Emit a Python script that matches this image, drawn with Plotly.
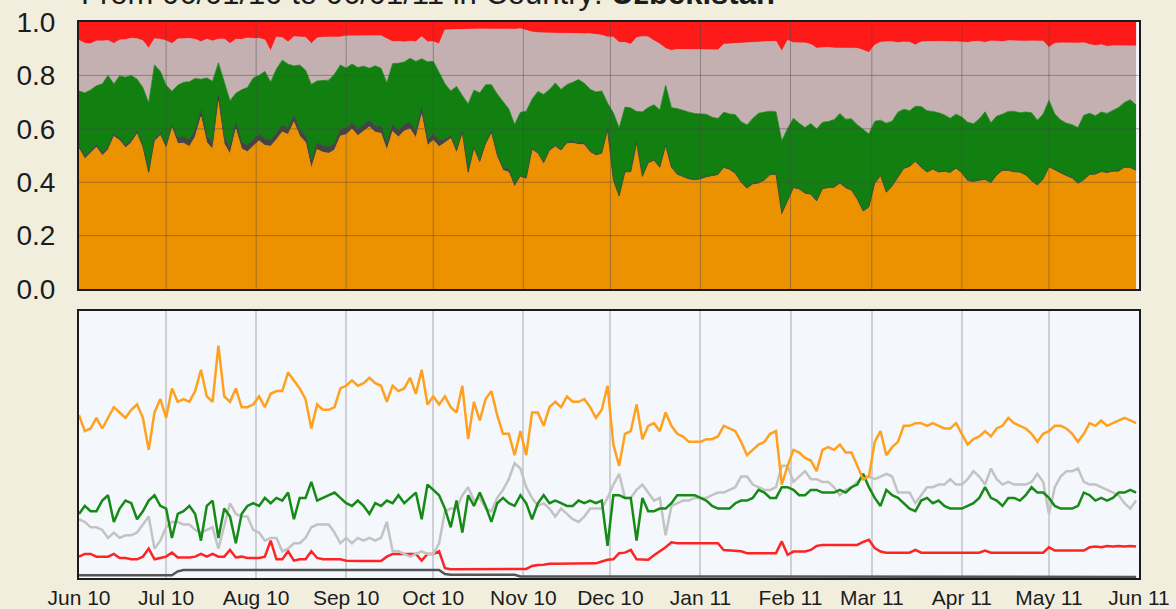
import pandas as pd
import plotly.graph_objects as go

# ---------------- data (every 2 days, 2010-06-01 .. 2011-05-31) ----------------
dates = pd.date_range("2010-06-01", periods=183, freq="2D")

orange = [61, 55, 56, 60, 56, 60, 64, 62, 60, 63,
          65, 60, 48, 62, 67, 60, 71, 66, 67, 66,
          70, 78, 68, 66, 87, 68, 66, 71, 64, 64,
          65, 68, 64, 69, 70, 70, 77, 74, 71, 67,
          56, 65, 63, 63, 64, 71, 72, 74, 72, 73,
          75, 73, 72, 66, 72, 70, 71, 75, 69, 78,
          65, 68, 65, 68, 64, 62, 72, 52, 66, 59,
          67, 70, 61, 54, 54, 46, 55, 46, 62, 62,
          57, 64, 66, 64, 68, 66, 66, 67, 64, 60,
          63, 72, 50, 42, 54, 55, 65, 52, 57, 58,
          55, 62, 57, 54, 53, 51, 51, 51, 52, 52,
          53, 57, 56, 55, 51, 46, 48, 50, 51, 54,
          55, 35, 42, 48, 47, 45, 44, 40, 48, 49,
          48, 50, 47, 47, 42, 37, 38, 51, 55, 46,
          49, 51, 57, 57, 58, 58, 57, 58, 57, 56,
          56, 58, 54, 50, 52, 53, 55, 53, 56, 57,
          60, 58, 57, 56, 54, 51, 54, 55, 57, 57,
          56, 54, 51, 54, 58, 57, 59, 57, 58, 59,
          60, 59, 58]

green = [24, 27, 25, 25, 29, 31, 21, 26, 29, 28,
         22, 25, 29, 31, 27, 26, 15, 24, 25, 27,
         24, 14, 27, 29, 15, 26, 23, 13, 24, 27,
         28, 27, 30, 28, 30, 29, 32, 22, 30, 30,
         36, 29, 30, 31, 32, 30, 28, 27, 29, 27,
         24, 28, 27, 29, 28, 31, 28, 30, 32, 22,
         35, 33, 31, 26, 19, 29, 17, 31, 27, 32,
         27, 21, 28, 30, 28, 27, 31, 28, 22, 28,
         31, 28, 29, 28, 27, 27, 29, 28, 29, 28,
         29, 12, 31, 31, 30, 30, 14, 30, 25, 25,
         26, 26, 28, 31, 31, 31, 31, 30, 29, 27,
         26, 26, 26, 28, 29, 29, 30, 33, 32, 30,
         30, 34, 34, 33, 31, 31, 33, 33, 32, 32,
         32, 33, 32, 34, 35, 39, 34, 30, 27, 33,
         31, 30, 28, 26, 25, 29, 30, 28, 29, 27,
         26, 26, 26, 27, 28, 30, 34, 30, 29, 27,
         30, 30, 29, 31, 34, 32, 32, 30, 27, 26,
         26, 26, 27, 32, 31, 29, 30, 29, 30, 32,
         32, 33, 32]

grey = [22, 21, 19, 19, 18, 15, 17, 15, 16, 16,
        17, 20, 23, 11, 14, 19, 21, 21, 20, 20,
        18, 17, 18, 19, 11, 20, 28, 24, 23, 23,
        18, 17, 14, 15, 15, 10, 11, 13, 13, 15,
        19, 20, 20, 20, 17, 13, 15, 13, 15, 14,
        15, 14, 15, 21, 10, 10, 9, 8, 9, 10,
        9, 9, 13, 25, 26, 26, 31, 34, 29, 30,
        26, 25, 30, 33, 37, 43, 41, 34, 30, 27,
        28, 26, 23, 26, 24, 22, 21, 23, 26, 26,
        26, 30, 35, 39, 30, 30, 33, 35, 32, 29,
        30, 16, 27, 28, 29, 29, 30, 30, 30, 31,
        32, 32, 33, 34, 38, 38, 35, 34, 33, 33,
        34, 42, 42, 36, 38, 40, 37, 37, 36, 36,
        34, 31, 33, 34, 36, 38, 38, 37, 38, 39,
        38, 32, 32, 32, 28, 31, 34, 34, 35, 35,
        37, 35, 35, 37, 40, 38, 35, 41, 37, 35,
        36, 35, 35, 35, 36, 39, 36, 24, 34, 38,
        40, 40, 41, 36, 35, 35, 34, 33, 32, 31,
        28, 26, 29]

red = [8, 9, 9, 8, 8, 8, 9, 7.5, 7.5, 7,
       7, 8, 11, 7, 7.5, 8, 9.5, 7.7, 7.7, 7.7,
       8, 9, 8, 9, 8, 8, 10.5, 7.7, 8, 7.5,
       7.5, 7.5, 8, 14, 7, 7, 10, 6.5, 7, 7,
       10, 7.5, 7, 7, 7, 7, 6.5, 6.4, 6.4, 6.4,
       6.4, 6.4, 6.4, 8, 9, 9, 9, 9, 9, 6.5,
       9, 9, 10, 3.7, 3.3, 3.3, 3.3, 3.3, 3.3, 3.3,
       3.3, 3.3, 3.3, 3.3, 3.3, 3.3, 3.3, 3.4, 4.5, 4.9,
       5, 5.3, 5.3, 5.3, 5.3, 5.3, 5.3, 5.5, 5.5, 5.5,
       6.2, 6.8, 7, 9.3, 9.5, 10.5, 7, 6.8, 6.8, 8.5,
       10, 11.5, 13.4, 13, 13, 13, 13, 13, 13, 13,
       13, 10.5, 10.3, 10.3, 10, 9.3, 9.3, 9.3, 9.3, 9.3,
       9.3, 13.7, 8.7, 9.9, 9.9, 9.9, 10.5, 12, 12.4, 12.4,
       12.4, 12.4, 12.4, 12.4, 12.4, 13.5, 14.3, 11.2, 9.9, 9.5,
       9.5, 9.5, 9.5, 9.5, 10.5, 9.5, 9.5, 9.5, 9.5, 9.5,
       9.5, 9.5, 9.5, 9.5, 9.5, 9.5, 10.3, 9.5, 9.5, 9.5,
       9.5, 9.5, 9.5, 9.5, 9.5, 9.5, 9.5, 11.5, 10.3, 10.3,
       10.3, 10.3, 10.3, 10.3, 11.5, 11.8, 11.5, 12, 11.8, 12,
       11.8, 12, 11.8]

dark = [1.0, 1.0, 1.0, 1.0, 1.0, 1.0, 1.0, 1.0, 1.0, 1.0,
        1.0, 1.0, 1.0, 1.0, 1.0, 1.0, 1.0, 2.5, 3.0, 3.0,
        3.0, 3.0, 3.0, 3.0, 3.0, 3.0, 3.0, 3.0, 3.0, 3.0,
        3.0, 3.0, 3.0, 3.0, 3.0, 3.0, 3.0, 3.0, 3.0, 3.0,
        3.0, 3.0, 3.0, 3.0, 3.0, 3.0, 3.0, 3.0, 3.0, 3.0,
        3.0, 3.0, 3.0, 3.0, 3.0, 3.0, 3.0, 3.0, 3.0, 3.0,
        3.0, 3.0, 3.0, 1.5, 1.2, 1.2, 1.2, 1.2, 1.2, 1.2,
        1.2, 1.2, 1.2, 1.2, 1.2, 1.2, 0.6, 0.6, 0.6, 0.6,
        0.6, 0.6, 0.6, 0.6, 0.6, 0.6, 0.6, 0.6, 0.6, 0.6,
        0.6, 0.4, 0.4, 0.4, 0.4, 0.4, 0.4, 0.4, 0.4, 0.4,
        0.4, 0.4, 0.4, 0.4, 0.4, 0.4, 0.4, 0.4, 0.4, 0.4,
        0.4, 0.4, 0.4, 0.4, 0.4, 0.4, 0.4, 0.4, 0.4, 0.4,
        0.4, 0.4, 0.4, 0.4, 0.4, 0.4, 0.4, 0.4, 0.4, 0.4,
        0.4, 0.4, 0.4, 0.4, 0.4, 0.4, 0.4, 0.4, 0.4, 0.4,
        0.4, 0.4, 0.4, 0.4, 0.4, 0.4, 0.4, 0.4, 0.4, 0.4,
        0.4, 0.4, 0.4, 0.4, 0.4, 0.4, 0.4, 0.4, 0.4, 0.4,
        0.4, 0.4, 0.4, 0.4, 0.4, 0.4, 0.4, 0.4, 0.4, 0.4,
        0.4, 0.4, 0.4, 0.4, 0.4, 0.4, 0.4, 0.4, 0.4, 0.4,
        0.4, 0.4, 0.4]

for s in (orange, green, grey, red, dark):
    assert len(s) == len(dates)

title_text = "From 06/01/10 to 06/01/11 in Country: <b>Uzbekistan</b>"
x_start, x_end = "2010-06-01", "2011-06-01"
month_ticks = pd.date_range(x_start, x_end, freq="MS")
share_ticks = [0.0, 0.2, 0.4, 0.6, 0.8, 1.0]

# ---------------- styles ----------------
FONT = "Liberation Sans, Arial, Helvetica, sans-serif"
BG = "#F1EEDE"
area_cols = {"orange": "#EC9200", "dark": "#444444", "green": "#118011",
             "grey": "#C4B0B0", "red": "#FF1A1A"}
line_cols = {"orange": "#FFA11F", "dark": "#555555", "green": "#168A16",
             "grey": "#C3C3C3", "red": "#FF2424"}

series = [("orange", orange), ("dark", dark), ("green", green),
          ("grey", grey), ("red", red)]

fig = go.Figure()

# top panel: normalized stacked areas
for name, vals in series:
    lc = "#3a3a3a" if name == "dark" else area_cols[name]
    fig.add_trace(go.Scatter(
        x=dates, y=vals, mode="lines", stackgroup="one", groupnorm="fraction",
        fillcolor=area_cols[name], line=dict(color=lc, width=0.8),
        xaxis="x", yaxis="y", showlegend=False, hoverinfo="skip"))

# bottom panel: lines
for name, vals in [("dark", dark), ("red", red), ("grey", grey),
                   ("green", green), ("orange", orange)]:
    fig.add_trace(go.Scatter(
        x=dates, y=vals, mode="lines",
        line=dict(color=line_cols[name], width=2.5),
        xaxis="x2", yaxis="y2", showlegend=False, hoverinfo="skip"))

# grid lines drawn over the areas in the top panel
shapes = []
for m in month_ticks[1:-1]:
    shapes.append(dict(type="line", xref="x", yref="y domain", x0=m, x1=m, y0=0, y1=1,
                       line=dict(color="rgba(70,70,70,0.45)", width=1), layer="above"))
for t in share_ticks[1:-1]:
    shapes.append(dict(type="line", xref="x domain", yref="y", x0=0, x1=1, y0=t, y1=t,
                       line=dict(color="rgba(70,70,70,0.45)", width=1), layer="above"))

frame = dict(showline=True, linewidth=2, linecolor="#1c1c1c", mirror=True,
             automargin=False)

fig.update_layout(
    width=1176, height=609,
    paper_bgcolor=BG, plot_bgcolor="#F4F7FB",
    margin=dict(l=79, r=37, t=22, b=31, autoexpand=False),
    font=dict(family=FONT, color="#1c1c1c"),
    shapes=shapes,
    xaxis=dict(domain=[0, 1], anchor="y", range=[x_start, x_end], type="date",
               tickvals=month_ticks, showticklabels=False, showgrid=False,
               ticks="", zeroline=False, **frame),
    yaxis=dict(domain=[0.5198, 1.0], anchor="x", range=[0, 1], tickvals=share_ticks,
               tickformat=".1f", ticks="", showgrid=False, zeroline=False,
               tickfont=dict(size=28), ticklabelstandoff=16, **frame),
    xaxis2=dict(domain=[0, 1], anchor="y2", range=[x_start, x_end], type="date",
                tickvals=month_ticks, tickformat="%b %y", ticks="", ticklen=0,
                showgrid=True, gridcolor="#CDD1D6", gridwidth=1.5,
                tickfont=dict(size=21), ticklabelstandoff=0, zeroline=False, **frame),
    yaxis2=dict(domain=[0, 0.4802], anchor="x2", range=[0, 100], showticklabels=False,
                ticks="", showgrid=False, zeroline=False, **frame),
    annotations=[dict(text=title_text, xref="paper", yref="paper", x=0, y=1.017,
                      xanchor="left", yanchor="bottom", showarrow=False,
                      font=dict(size=31, family=FONT, color="#1c1c1c"))],
)

fig.write_html(
    "out.html",
    config={"displayModeBar": False},
    post_script="document.body.style.margin='0';document.body.style.overflow='hidden';",
)
